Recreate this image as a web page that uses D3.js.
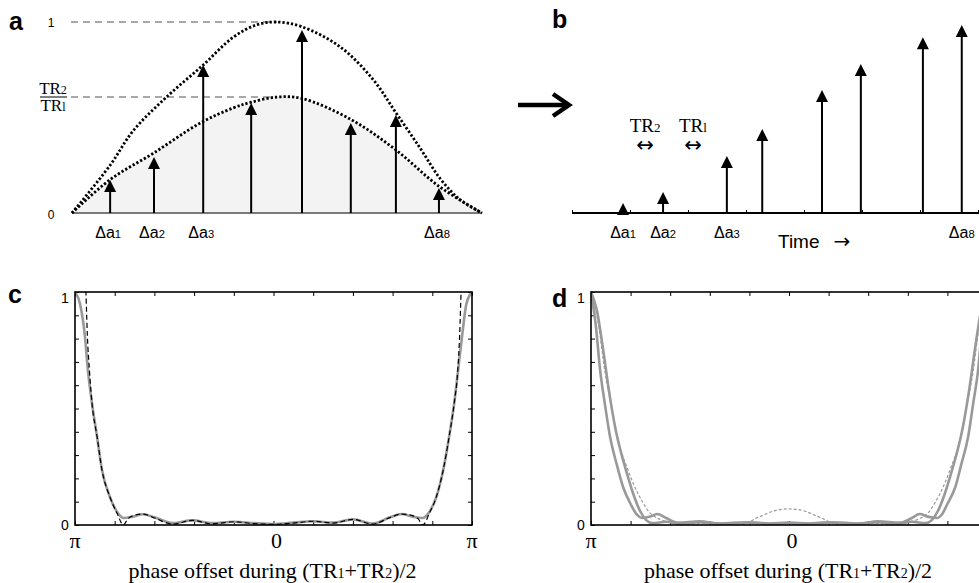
<!DOCTYPE html>
<html><head><meta charset="utf-8">
<script src="https://cdn.jsdelivr.net/npm/d3@7"></script>
<style>body{margin:0;background:#fff}svg{display:block}</style>
</head><body>
<svg id="chart" width="979" height="583"></svg>
<script>
// ---------- Panel a: pulse train amplitudes under the two envelopes ----------
const aPos = [0.093, 0.200, 0.320, 0.437, 0.561, 0.680, 0.790, 0.895];
const aAmp = [0.173, 0.293, 0.775, 0.576, 0.958, 0.471, 0.513, 0.131];
const aLabelIdx = [0, 1, 2, 7];
const aLabelSub = ["1", "2", "3", "8"];
const envUpperT = [0, 0.093, 0.149, 0.232, 0.32, 0.393, 0.45, 0.5, 0.561, 0.654, 0.734, 0.79, 0.849, 0.898, 0.946, 1.0];
const envUpperV = [0, 0.25, 0.43, 0.61, 0.775, 0.92, 0.985, 1.0, 0.975, 0.87, 0.70, 0.525, 0.34, 0.18, 0.07, 0];
const envLowerT = [0, 0.093, 0.200, 0.312, 0.393, 0.437, 0.5, 0.56, 0.68, 0.79, 0.895, 1.0];
const envLowerV = [0, 0.175, 0.315, 0.47, 0.55, 0.58, 0.607, 0.60, 0.49, 0.33, 0.14, 0];
const ratioLevels = [1, 0.607];

// ---------- Panel b: pulses re-ordered in time ----------
const bTicks = [0, 1, 2, 3, 4, 5, 6, 7];
const bPos = [0.88, 1.57, 2.67, 3.28, 4.31, 4.98, 6.05, 6.72];
const bAmp = [0.052, 0.11, 0.298, 0.44, 0.644, 0.78, 0.92, 0.984];
const bLabelIdx = [0, 1, 2, 7];
const bLabelSub = ["1", "2", "3", "8"];

// ---------- Panel c: response vs phase offset (phase in units of pi) ----------
const cPhase = [-1, -0.975, -0.95, -0.935, -0.914, -0.889, -0.864, -0.824, -0.788, -0.753, -0.708, -0.657, -0.60, -0.506, -0.41, -0.31, -0.20, -0.10, 0, 0.10, 0.20, 0.30, 0.40, 0.50, 0.59, 0.645, 0.70, 0.75, 0.785, 0.82, 0.855, 0.885, 0.91, 0.93, 0.95, 0.972, 1];
const cSolid = [1.0, 0.95, 0.81, 0.665, 0.52, 0.38, 0.236, 0.12, 0.056, 0.03, 0.036, 0.046, 0.033, 0.008, 0.02, 0.008, 0.014, 0.008, 0.004, 0.01, 0.016, 0.01, 0.024, 0.006, 0.034, 0.047, 0.036, 0.03, 0.056, 0.12, 0.236, 0.38, 0.52, 0.665, 0.81, 0.95, 1.0];
const cDashPhase = [-1, -0.96, -0.945, -0.938, -0.927, -0.914, -0.889, -0.864, -0.824, -0.788, -0.756, -0.735, -0.708, -0.657, -0.60, -0.506, -0.41, -0.31, -0.20, -0.10, 0, 0.10, 0.20, 0.30, 0.40, 0.50, 0.59, 0.645, 0.70, 0.73, 0.752, 0.785, 0.82, 0.855, 0.885, 0.91, 0.928, 0.938, 0.945, 0.96, 1];
const cDashed = [2.0, 1.25, 1.0, 0.82, 0.66, 0.52, 0.38, 0.236, 0.12, 0.05, 0.0, 0.025, 0.04, 0.047, 0.03, 0.004, 0.02, 0.005, 0.014, 0.006, 0.003, 0.008, 0.016, 0.008, 0.024, 0.004, 0.033, 0.047, 0.04, 0.025, 0.0, 0.05, 0.12, 0.236, 0.38, 0.52, 0.66, 0.82, 1.0, 1.25, 2.0];

// ---------- Panel d ----------
const dPhaseA = [-1, -0.975, -0.954, -0.93, -0.904, -0.87, -0.838, -0.80, -0.767, -0.742, -0.70, -0.666, -0.62, -0.56, -0.45, -0.35, -0.2, -0.1, 0, 0.1, 0.2, 0.35, 0.45, 0.56, 0.62, 0.66, 0.70, 0.748, 0.77, 0.80, 0.84, 0.87, 0.905, 0.93, 0.955, 0.975, 1];
const dSolidA = [1.0, 0.85, 0.665, 0.52, 0.38, 0.26, 0.163, 0.09, 0.043, 0.03, 0.036, 0.047, 0.03, 0.01, 0.016, 0.006, 0.012, 0.006, 0.01, 0.006, 0.012, 0.006, 0.016, 0.01, 0.03, 0.047, 0.036, 0.03, 0.043, 0.09, 0.163, 0.26, 0.38, 0.52, 0.665, 0.85, 1.0];
const dPhaseB = [-1, -0.97, -0.94, -0.91, -0.878, -0.848, -0.818, -0.785, -0.752, -0.72, -0.69, -0.62, -0.55, -0.45, -0.35, -0.2, -0.1, 0, 0.1, 0.2, 0.35, 0.45, 0.55, 0.62, 0.69, 0.72, 0.752, 0.785, 0.818, 0.848, 0.878, 0.91, 0.94, 0.97, 1];
const dSolidB = [1.0, 0.92, 0.76, 0.58, 0.42, 0.31, 0.22, 0.13, 0.06, 0.02, 0.008, 0.014, 0.006, 0.012, 0.006, 0.01, 0.005, 0.008, 0.005, 0.01, 0.006, 0.012, 0.006, 0.014, 0.008, 0.02, 0.06, 0.13, 0.22, 0.31, 0.42, 0.58, 0.76, 0.92, 1.0];
const dDashPhase = [-1, -0.96, -0.93, -0.9, -0.868, -0.813, -0.76, -0.737, -0.70, -0.6, -0.5, -0.4, -0.3, -0.25, -0.15, -0.07, 0, 0.07, 0.15, 0.26, 0.3, 0.4, 0.5, 0.6, 0.70, 0.737, 0.76, 0.813, 0.868, 0.9, 0.93, 0.96, 1];
const dDashed = [1.0, 0.85, 0.66, 0.52, 0.38, 0.236, 0.13, 0.095, 0.05, 0.012, 0.004, 0.008, 0.002, 0.0, 0.035, 0.062, 0.069, 0.062, 0.035, 0.0, 0.002, 0.008, 0.004, 0.012, 0.05, 0.095, 0.13, 0.236, 0.38, 0.52, 0.66, 0.85, 1.0];

const SANS = "'Liberation Sans', Arial, sans-serif";
const SERIF = "'Liberation Serif', 'Times New Roman', serif";
const svg = d3.select("#chart");
svg.append("rect").attr("width", 979).attr("height", 583).attr("fill", "#fff");

function arrow(g, x, yBase, yTip, head) {
  const hw = head / 2;
  g.append("line").attr("x1", x).attr("x2", x).attr("y1", yBase).attr("y2", Math.min(yBase, yTip + head - 1))
    .attr("stroke", "#000").attr("stroke-width", 2);
  g.append("path").attr("d", `M${x},${yTip}L${x - hw},${yTip + head}L${x + hw},${yTip + head}Z`).attr("fill", "#000");
}
function deltaLabel(g, x, y, sub, size) {
  const t = g.append("text").attr("x", x).attr("y", y).attr("text-anchor", "middle")
    .attr("font-family", SANS).attr("font-size", size);
  t.append("tspan").text("Δa");
  t.append("tspan").attr("font-size", size * 0.7).text(sub);
}

// ===== Panel a =====
const xa = d3.scaleLinear().domain([0, 1]).range([72, 482]);
const ya = d3.scaleLinear().domain([0, 1]).range([213, 22]);
const ga = svg.append("g");
const upperPts = envUpperT.map((t, i) => [t, envUpperV[i]]);
const lowerPts = envLowerT.map((t, i) => [t, envLowerV[i]]);
const smooth = d3.curveCatmullRom.alpha(0.5);
ga.append("path").datum(lowerPts)
  .attr("d", d3.area().x(d => xa(d[0])).y0(ya(0)).y1(d => ya(d[1])).curve(smooth))
  .attr("fill", "#f3f3f3");
ratioLevels.forEach(v => {
  ga.append("line").attr("x1", 71).attr("x2", xa(0.5)).attr("y1", ya(v)).attr("y2", ya(v))
    .attr("stroke", "#8c8c8c").attr("stroke-width", 1.4).attr("stroke-dasharray", "7,5");
});
ga.append("line").attr("x1", xa(0)).attr("x2", xa(1)).attr("y1", ya(0)).attr("y2", ya(0))
  .attr("stroke", "#7a7a7a").attr("stroke-width", 2);
aPos.forEach((p, i) => arrow(ga, xa(p), ya(0), ya(aAmp[i]), 12));
[upperPts, lowerPts].forEach(pts => {
  ga.append("path").datum(pts)
    .attr("d", d3.line().x(d => xa(d[0])).y(d => ya(d[1])).curve(smooth))
    .attr("fill", "none").attr("stroke", "#000").attr("stroke-width", 2.8).attr("stroke-dasharray", "2.3,2");
});
ga.append("text").attr("x", 51).attr("y", 27).attr("text-anchor", "middle").attr("font-family", SANS).attr("font-size", 12).text("1");
ga.append("text").attr("x", 51).attr("y", 219).attr("text-anchor", "middle").attr("font-family", SANS).attr("font-size", 12).text("0");
// fraction TR2/TR1
const fr = ga.append("g").attr("font-family", SERIF).attr("font-size", 17);
const f1 = fr.append("text").attr("x", 53).attr("y", 94).attr("text-anchor", "middle");
f1.append("tspan").text("TR"); f1.append("tspan").attr("font-size", 12).text("2");
fr.append("line").attr("x1", 40).attr("x2", 67).attr("y1", 97).attr("y2", 97).attr("stroke", "#000").attr("stroke-width", 1);
const f2 = fr.append("text").attr("x", 53).attr("y", 111).attr("text-anchor", "middle");
f2.append("tspan").text("TR"); f2.append("tspan").attr("font-size", 12).text("l");
aLabelIdx.forEach((idx, k) => deltaLabel(ga, xa(aPos[idx]) - 2, 238, aLabelSub[k], 16));
svg.append("text").attr("x", 9).attr("y", 30).attr("font-family", SANS).attr("font-weight", "bold").attr("font-size", 25).text("a");

// big arrow between a and b
svg.append("line").attr("x1", 518).attr("x2", 568).attr("y1", 105).attr("y2", 105).attr("stroke", "#000").attr("stroke-width", 4.5);
svg.append("path").attr("d", "M553,94L569,105L553,116").attr("fill", "none").attr("stroke", "#000").attr("stroke-width", 4.5);

// ===== Panel b =====
const xb = d3.scaleLinear().domain([0, 7]).range([572, 978]);
const gb = svg.append("g");
const axB = gb.append("g").attr("transform", `translate(0,${ya(0)})`)
  .call(d3.axisBottom(xb).tickValues(bTicks).tickSize(-3).tickSizeOuter(0).tickFormat(""));
axB.select(".domain").attr("stroke-width", 2).attr("d", `M572,0H979`);
axB.selectAll(".tick line").attr("stroke-width", 1);
bPos.forEach((p, i) => arrow(gb, xb(p), ya(0), ya(bAmp[i]), 12));
bLabelIdx.forEach((idx, k) => deltaLabel(gb, xb(bPos[idx]), 238, bLabelSub[k], 16));
const tl = gb.append("text").attr("x", 778).attr("y", 248).attr("font-family", SANS).attr("font-size", 19);
tl.append("tspan").text("Time");
tl.append("tspan").attr("dx", 14).attr("font-family", "'DejaVu Sans', sans-serif").attr("font-size", 20).text("→");
const trX2 = xb((bPos[0] + bPos[1]) / 2) + 2, trX1 = xb((bPos[1] + bPos[2]) / 2) - 2;
[[trX2, "2"], [trX1, "l"]].forEach(([x, s]) => {
  const t = gb.append("text").attr("x", x).attr("y", 132).attr("text-anchor", "middle").attr("font-family", SERIF).attr("font-size", 19);
  t.append("tspan").text("TR"); t.append("tspan").attr("font-size", 13).text(s);
  gb.append("text").attr("x", x).attr("y", 152).attr("text-anchor", "middle").attr("font-family", "'DejaVu Sans', sans-serif").attr("font-size", 21).text("↔");
});
svg.append("text").attr("x", 552).attr("y", 28).attr("font-family", SANS).attr("font-weight", "bold").attr("font-size", 25).text("b");

// ===== Panels c and d =====
function phasePanel(x0, x1, letter, lx, ly, series) {
  const x = d3.scaleLinear().domain([-1, 1]).range([x0, x1]);
  const y = d3.scaleLinear().domain([0, 1]).range([525, 292]);
  const g = svg.append("g");
  const id = "clip" + letter;
  svg.append("clipPath").attr("id", id).append("rect").attr("x", x0).attr("y", 292).attr("width", x1 - x0).attr("height", 233);
  const xt = d3.range(-1, 1.0001, 0.2);
  const yt = d3.range(0, 1.0001, 0.1);
  const mk = (axis, tr) => {
    const a = g.append("g").attr("transform", tr).call(axis.tickSize(-4).tickSizeOuter(0).tickFormat(""));
    a.select(".domain").remove();
    a.selectAll(".tick line").attr("stroke", "#000").attr("stroke-width", 1);
  };
  mk(d3.axisBottom(x).tickValues(xt), `translate(0,${y(0)})`);
  mk(d3.axisTop(x).tickValues(xt), `translate(0,${y(1)})`);
  mk(d3.axisLeft(y).tickValues(yt), `translate(${x0},0)`);
  mk(d3.axisRight(y).tickValues(yt), `translate(${x1},0)`);
  series.forEach(s => {
    const pts = s.p.map((p, i) => [p, s.v[i]]);
    g.append("path").datum(pts).attr("clip-path", `url(#${id})`)
      .attr("d", d3.line().x(d => x(d[0])).y(d => y(d[1])).curve(d3.curveMonotoneX))
      .attr("fill", "none").attr("stroke", s.color).attr("stroke-width", s.w)
      .attr("stroke-dasharray", s.dash || null);
  });
  g.append("rect").attr("x", x0).attr("y", 292).attr("width", x1 - x0).attr("height", 233)
    .attr("fill", "none").attr("stroke", "#000").attr("stroke-width", 1.6);
  g.append("text").attr("x", x0 - 10).attr("y", 303).attr("text-anchor", "middle").attr("font-family", SANS).attr("font-size", 14).text("1");
  g.append("text").attr("x", x0 - 10).attr("y", 530).attr("text-anchor", "middle").attr("font-family", SANS).attr("font-size", 14).text("0");
  [[-1, "π"], [0, "0"], [1, "π"]].forEach(([v, s]) => {
    g.append("text").attr("x", x(v) + (v === 0 ? 3 : 0)).attr("y", 548).attr("text-anchor", "middle")
      .attr("font-family", SERIF).attr("font-size", 22).text(s);
  });
  const t = g.append("text").attr("x", x(0) - 1).attr("y", 578).attr("text-anchor", "middle")
    .attr("font-family", SERIF).attr("font-size", 22);
  t.append("tspan").text("phase offset during (TR");
  t.append("tspan").attr("font-size", 14).text("1");
  t.append("tspan").text("+TR");
  t.append("tspan").attr("font-size", 14).text("2");
  t.append("tspan").text(")/2");
  svg.append("text").attr("x", lx).attr("y", ly).attr("font-family", SANS).attr("font-weight", "bold").attr("font-size", 25).text(letter);
}

phasePanel(75, 472, "c", 8, 303, [
  { p: cPhase, v: cSolid, color: "#999", w: 2.6 },
  { p: cDashPhase, v: cDashed, color: "#000", w: 1.2, dash: "5,3" }
]);
phasePanel(591, 987, "d", 552, 307, [
  { p: dDashPhase, v: dDashed, color: "#999", w: 1.2, dash: "3,2" },
  { p: dPhaseB, v: dSolidB, color: "#999", w: 2.6 },
  { p: dPhaseA, v: dSolidA, color: "#999", w: 2.6 }
]);
</script>
</body></html>
